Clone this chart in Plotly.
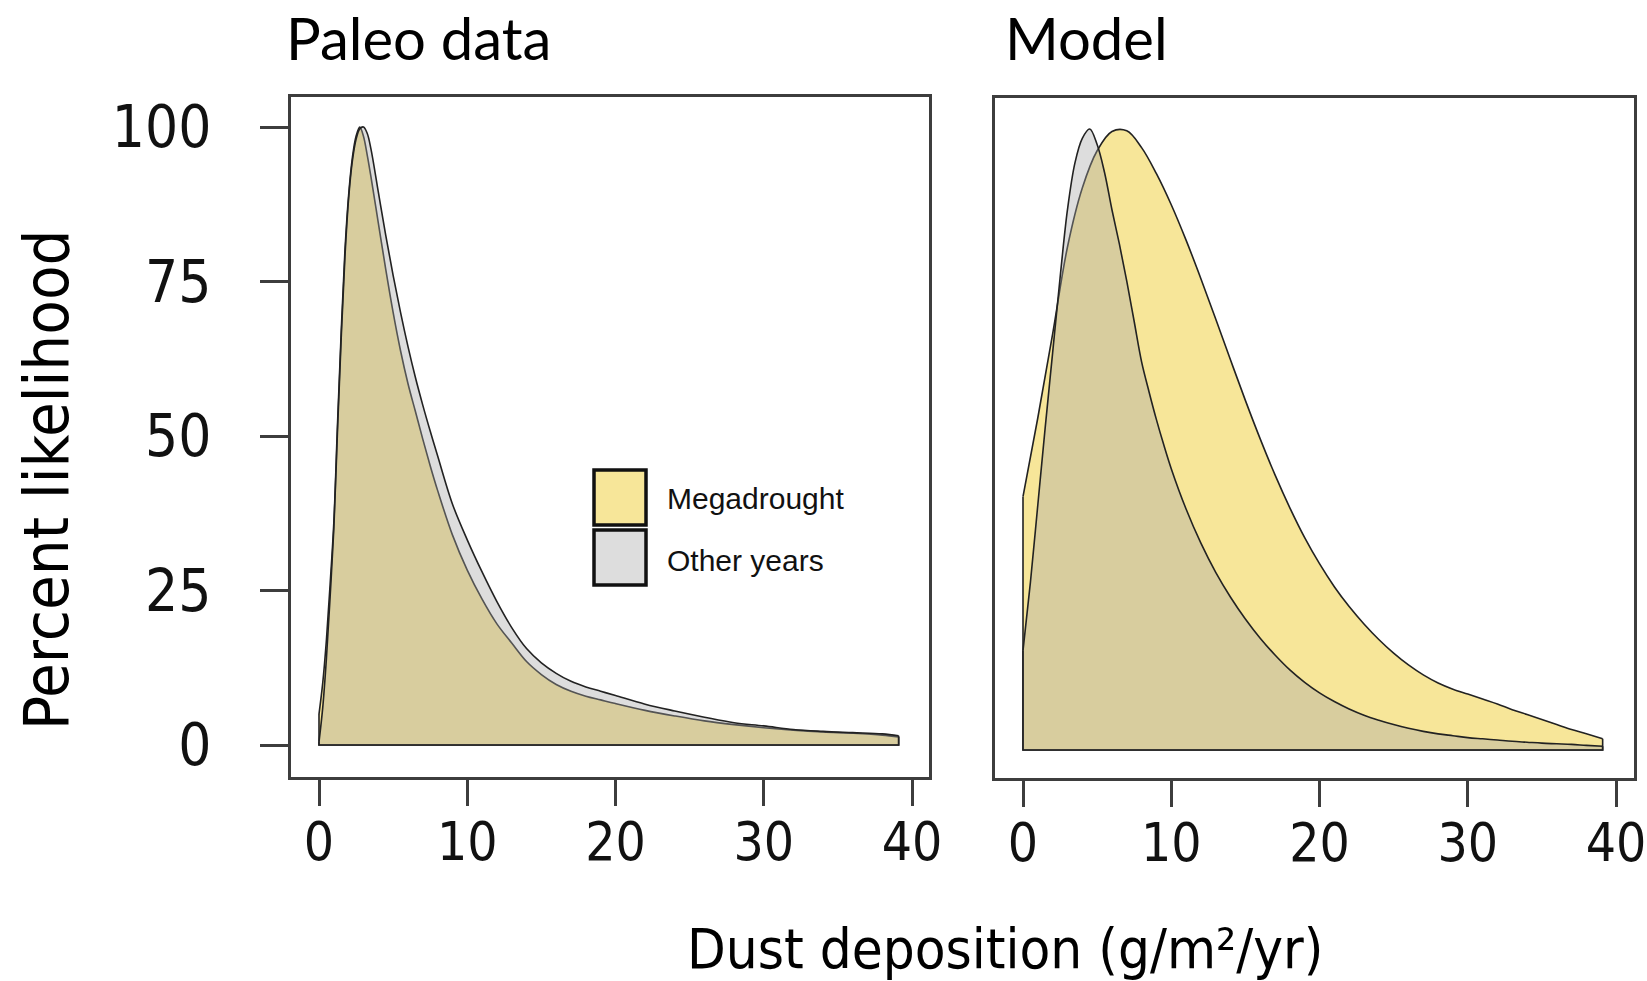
import plotly.graph_objects as go

W, H = 1647, 981

# ---------------- data ----------------
paleo_x = [0, 0.25, 0.5, 0.75, 1, 1.25, 1.5, 1.75, 2, 2.25, 2.5, 2.75, 3, 3.25, 3.5,
           4, 4.5, 5, 5.5, 6, 6.5, 7, 7.5, 8, 9, 10, 11, 12, 13, 14, 15, 16, 17, 18,
           19, 20, 22, 24, 26, 28, 30, 32, 34, 36, 38, 39.1]
paleo_megadrought = [5, 10, 17, 26, 36, 52, 67, 80, 89, 95, 98.5, 100, 98.5, 95.5, 92,
                     84.5, 77, 70, 63.8, 58.5, 54, 49.5, 45.2, 41.2, 34, 28.3, 23.6, 19.6,
                     16.5, 13.5, 11.4, 9.8, 8.7, 7.9, 7.3, 6.7, 5.6, 4.7, 3.9, 3.3, 2.8,
                     2.4, 2.1, 1.9, 1.6, 1.3]
paleo_other = [0.5, 6, 14, 24, 35, 51, 66, 79, 88.5, 94.5, 98, 99.7, 100, 99, 96.5,
               89.5, 82.5, 76, 70, 64.5, 59.5, 55, 50.8, 46.8, 39, 33.2, 28, 23.2, 19,
               15.6, 13.3, 11.6, 10.3, 9.4, 8.7, 8.0, 6.6, 5.5, 4.5, 3.6, 3.1, 2.5,
               2.2, 2.0, 1.8, 1.5]

model_mega_x = [0, 1, 2, 3, 4, 5, 6, 7, 8, 9, 10, 11, 12, 13, 14, 15, 16, 17, 18, 19,
                20, 21, 22, 23, 24, 25, 26, 27, 28, 29, 30, 31, 32, 33, 34, 35, 36, 37,
                38, 39.1]
model_megadrought = [40.8, 53.5, 67, 81, 90.5, 96.5, 99.6, 99.7, 97.0, 92.8, 87.8, 82.1,
                     75.9, 69.4, 62.8, 56.3, 50.1, 44.3, 39.0, 34.2, 30.0, 26.3, 23.1,
                     20.3, 17.8, 15.6, 13.7, 12.1, 10.8, 9.8, 9.0, 8.2, 7.4, 6.5, 5.7, 4.9,
                     4.1, 3.3, 2.6, 1.8]
model_other_x = [0, 0.5, 1, 1.5, 2, 2.5, 3, 3.5, 4, 4.5, 5, 5.5, 6, 6.5, 7, 7.5, 8, 8.5,
                 9, 9.5, 10, 11, 12, 13, 14, 15, 16, 17, 18, 19, 20, 21, 22, 23, 24, 25,
                 26, 27, 28, 29, 30, 31, 32, 33, 34, 35, 36, 37, 38, 39.1]
model_other = [16, 27, 39.5, 52, 64, 76, 87, 94.5, 98.5, 100, 97.5, 93, 87, 81.5, 75.5,
               69, 62.5, 57.7, 53.2, 49.1, 45.3, 38.8, 33.3, 28.6, 24.6, 21.1, 18.0,
               15.3, 12.9, 10.9, 9.2, 7.8, 6.6, 5.6, 4.8, 4.1, 3.5, 3.0, 2.6, 2.3, 2.0,
               1.8, 1.6, 1.4, 1.25, 1.1, 1.0, 0.9, 0.75, 0.6]

x_tick_vals = [0, 10, 20, 30, 40]
x_tick_text = ["0", "10", "20", "30", "40"]
y_tick_vals = [0, 25, 50, 75, 100]
y_tick_text = ["0", "25", "50", "75", "100"]

panel_titles = ["Paleo data", "Model"]
legend_labels = ["Megadrought", "Other years"]
y_title = "Percent likelihood"
x_title = "Dust deposition (g/m²/yr)"

# ---------------- styles ----------------
YELLOW = "#F7E699"
GRAY_FILL = "rgba(166,166,166,0.38)"   # translucent grey over yellow gives the tan overlap
GRAY_SWATCH = "#DDDDDD"
EDGE = "#222222"
FRAME = "#3d3d3d"
COND = "DejaVu Sans Condensed, DejaVu Sans, sans-serif"


def px_x(p):
    return p / W


def px_y(p):
    return 1 - p / H


fig = go.Figure()


def add_density(xs, ys, xa, ya, fillcolor):
    common = dict(xaxis=xa, yaxis=ya, mode="lines", hoverinfo="skip", showlegend=False)
    fig.add_trace(go.Scatter(x=xs, y=ys, fill="tozeroy", fillcolor=fillcolor,
                             line=dict(width=0, shape="spline", smoothing=1), **common))
    fig.add_trace(go.Scatter(x=xs, y=ys,
                             line=dict(width=1.6, color=EDGE, shape="spline", smoothing=1),
                             **common))
    fig.add_trace(go.Scatter(x=[xs[0], xs[0], xs[-1], xs[-1]], y=[ys[0], 0, 0, ys[-1]],
                             line=dict(width=1.6, color=EDGE), **common))


add_density(paleo_x, paleo_megadrought, "x", "y", YELLOW)
add_density(paleo_x, paleo_other, "x", "y", GRAY_FILL)
add_density(model_mega_x, model_megadrought, "x2", "y2", YELLOW)
add_density(model_other_x, model_other, "x2", "y2", GRAY_FILL)

px_per_x = 14.825
axis_common = dict(showgrid=False, zeroline=False, showline=True, mirror=True,
                   automargin=False,
                   linecolor=FRAME, linewidth=3, tickcolor=FRAME, tickwidth=2.5)

xa_common = dict(axis_common, tickmode="array", tickvals=x_tick_vals, ticktext=x_tick_text,
                 ticks="outside", ticklen=26, ticklabelstandoff=-10,
                 ticklabeloverflow="allow",
                 tickfont=dict(family=COND, size=53, color="#111"))

# pixel geometry of the two panels (frame edges and the data origin)
L_left, L_right, L_x0 = 291, 929, 319
R_left, R_right, R_x0 = 995, 1634, 1023

fig.update_layout(
    width=W, height=H,
    margin=dict(l=0, r=0, t=0, b=0, pad=0, autoexpand=False),
    paper_bgcolor="white", plot_bgcolor="white",
    xaxis=dict(xa_common, domain=[px_x(L_left), px_x(L_right)],
               range=[(L_left - L_x0) / px_per_x, (L_right - L_x0) / px_per_x], anchor="y"),
    yaxis=dict(axis_common, domain=[px_y(777), px_y(97)],
               range=[(745 - 777) / 6.18, (745 - 97) / 6.18], anchor="x",
               tickmode="array", tickvals=y_tick_vals, ticktext=y_tick_text,
               ticks="outside", ticklen=28, ticklabelstandoff=37,
               tickfont=dict(family=COND, size=58, color="#111")),
    xaxis2=dict(xa_common, domain=[px_x(R_left), px_x(R_right)],
                range=[(R_left - R_x0) / px_per_x, (R_right - R_x0) / px_per_x], anchor="y2"),
    yaxis2=dict(axis_common, domain=[px_y(778), px_y(98)],
                range=[(750 - 778) / 6.21, (750 - 98) / 6.21], anchor="x2",
                showticklabels=False, ticks=""),
)

# panel titles
fig.add_annotation(text=panel_titles[0], x=px_x(284), y=px_y(38), xref="paper", yref="paper",
                   xanchor="left", yanchor="middle", showarrow=False,
                   font=dict(family="Lato", size=58, color="#000"))
fig.add_annotation(text=panel_titles[1], x=px_x(1003), y=px_y(38), xref="paper", yref="paper",
                   xanchor="left", yanchor="middle", showarrow=False,
                   font=dict(family="Lato", size=58, color="#000"))

# axis titles
fig.add_annotation(text=y_title, x=px_x(46), y=px_y(480), xref="paper", yref="paper",
                   textangle=-90, xanchor="center", yanchor="middle", showarrow=False,
                   font=dict(family=COND, size=63, color="#000"))
fig.add_annotation(text=x_title, x=px_x(1005), y=px_y(948), xref="paper", yref="paper",
                   xanchor="center", yanchor="middle", showarrow=False,
                   font=dict(family=COND, size=56, color="#000"))

# legend (drawn inside left panel)
legend_boxes = [(470, 525, YELLOW), (530, 585, GRAY_SWATCH)]
legend_text_y = [498, 560]
for (top, bot, col), label, ty in zip(legend_boxes, legend_labels, legend_text_y):
    fig.add_shape(type="rect", xref="paper", yref="paper",
                  x0=px_x(594), x1=px_x(646), y0=px_y(bot), y1=px_y(top),
                  fillcolor=col, line=dict(color="#111", width=3.5))
    fig.add_annotation(text=label, x=px_x(665), y=px_y(ty), xref="paper", yref="paper",
                       xanchor="left", yanchor="middle", showarrow=False,
                       font=dict(family="Liberation Sans", size=30, color="#111"))

fig.write_html("out.html")
